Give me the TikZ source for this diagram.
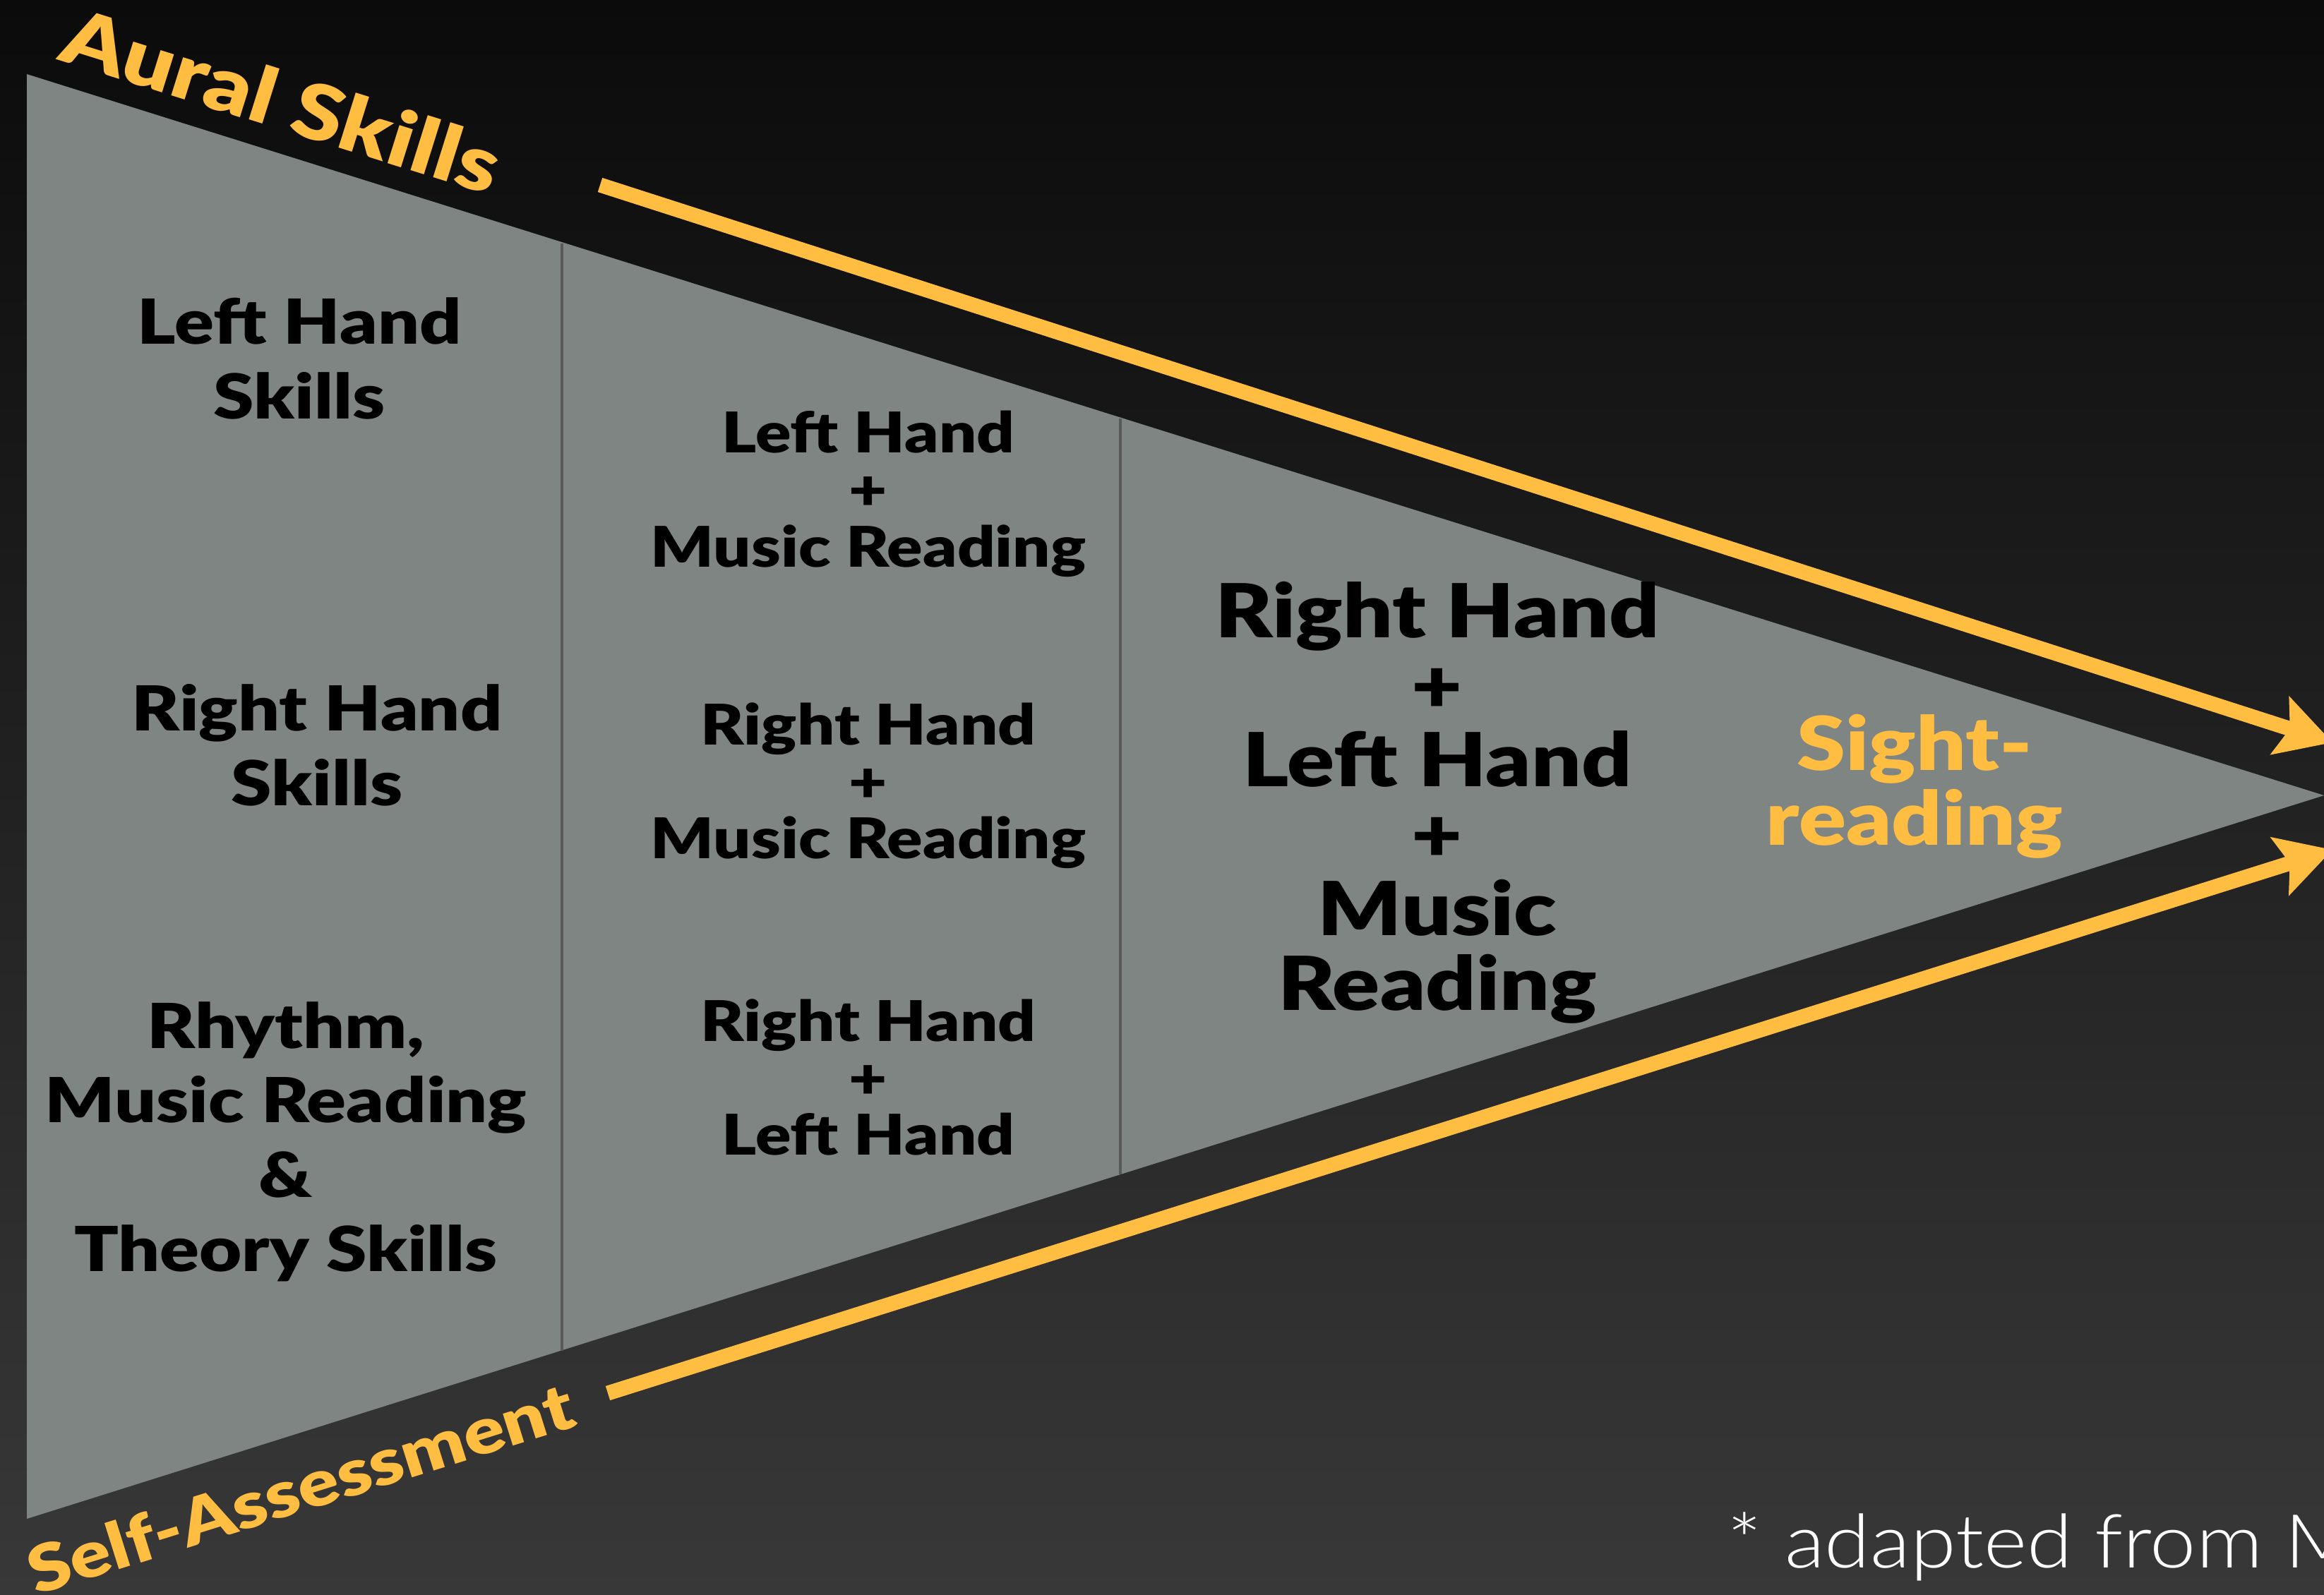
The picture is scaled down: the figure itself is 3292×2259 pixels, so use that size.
\documentclass[tikz,border=0pt]{standalone}
\usepackage{fontspec}
\setmainfont{Lato}[FakeStretch=1.18,BoldFont={Lato Black}]
\newfontfamily\thinfont{Lato Light}[FakeStretch=1.11]
\usetikzlibrary{arrows.meta,positioning}
\definecolor{bgtop}{RGB}{11,11,11}
\definecolor{bgbottom}{RGB}{56,56,56}
\definecolor{funnel}{RGB}{127,133,131}
\definecolor{divider}{RGB}{88,90,90}
\definecolor{gold}{RGB}{255,190,66}
\tikzset{skill/.style={align=center,text=black,font=\bfseries\fontsize{25}{30}\selectfont}}
\tikzset{combo/.style={align=center,text=black,font=\bfseries\fontsize{22.6}{23}\selectfont}}
\tikzset{whole/.style={align=center,text=black,font=\bfseries\fontsize{30}{30}\selectfont}}
\tikzset{goal/.style={align=center,text=gold,font=\bfseries\fontsize{30}{30}\selectfont}}
\tikzset{track/.style={text=gold,font=\bfseries\fontsize{31}{36}\selectfont,inner sep=0pt}}
\tikzset{flow/.style={draw=gold,line width=6pt,-{Stealth[length=22pt,width=24pt,inset=4pt]}}}
\tikzset{stage/.style={draw=divider,line width=1pt}}

\begin{document}
\begin{tikzpicture}[x=0.01cm,y=-0.01cm,node distance=4.13cm]
    \clip (0,0) rectangle (3292,2259);
    \shade[top color=bgtop,bottom color=bgbottom] (0,0) rectangle (3292,2259);

    % funnel and its stages
    \coordinate (tl) at (38,105);
    \coordinate (bl) at (38,2152);
    \coordinate (tip) at (3292,1127);
    \fill[funnel] (tl) -- (tip) -- (bl) -- cycle;
    \coordinate (s1top) at (796,345);
    \coordinate (s1bot) at (796,1914);
    \coordinate (s2top) at (1587,593);
    \coordinate (s2bot) at (1587,1664);
    \path[stage] (s1top) -- (s1bot);
    \path[stage] (s2top) -- (s2bot);

    % first stage
    \node[skill] (lhs) at (424,508) {Left Hand\\Skills};
    \node[skill] (rhs) at (449,1056) {Right Hand\\Skills};
    \node[skill] (rmt) at (405,1618) {Rhythm,\\Music Reading\\\&\\Theory Skills};

    % second stage
    \node[combo] (lhmr) at (1230,700) {Left Hand\\+\\Music Reading};
    \node[combo,below of=lhmr] (rhmr) {Right Hand\\+\\Music Reading};
    \node[combo,below of=rhmr] (rhlh) {Right Hand\\+\\Left Hand};

    % third stage
    \node[whole] (all) at (2036,1137) {Right Hand\\+\\Left Hand\\+\\Music\\Reading};
    \node[goal] (sight) at (2712,1114) {Sight-\\reading};

    % side tracks
    \node[track,rotate=-17.4] (aural) at (399,142) {Aural Skills};
    \node[track,rotate=17.4,font=\bfseries\fontsize{26}{32}\selectfont] (self) at (425,2108) {Self-Assessment};
    \coordinate (auralstart) at (850,262);
    \coordinate (auralend) at (3304,1052);
    \coordinate (selfstart) at (861,1974);
    \coordinate (selfend) at (3304,1204);
    \path[flow] (auralstart) -- (auralend);
    \path[flow] (selfstart) -- (selfend);

    \node[anchor=base west,inner sep=0pt,text=white,font=\thinfont\fontsize{30}{36}\selectfont] (credit) at (2446,2221) {* adapted from M};
\end{tikzpicture}
\end{document}
